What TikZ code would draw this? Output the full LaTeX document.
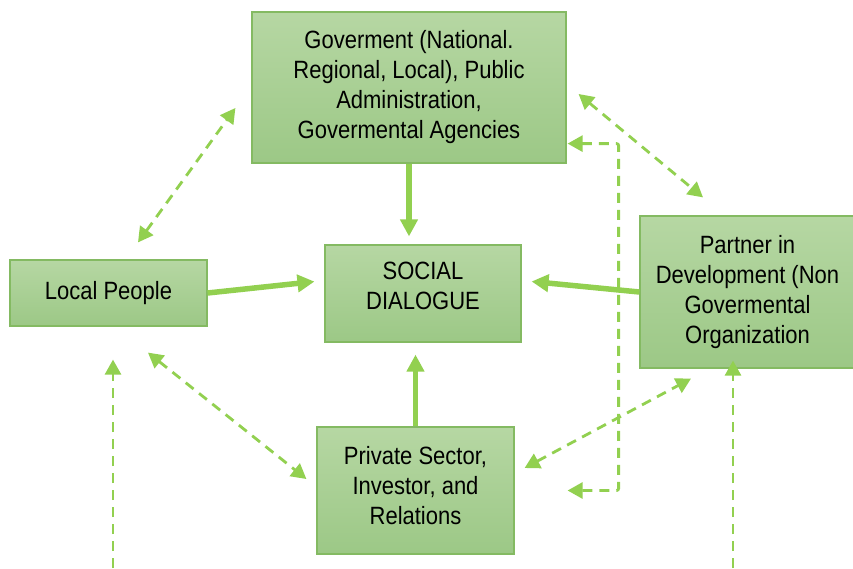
\documentclass[tikz,border=0pt]{standalone}
\usepackage{fontspec}
\usepackage{tikz}
\usetikzlibrary{arrows.meta,calc}
\newfontfamily\boxfont{Liberation Sans}[FakeStretch=0.88]
\definecolor{arrowgreen}{HTML}{92D050}
\definecolor{boxtop}{HTML}{B6D7A3}
\definecolor{boxbottom}{HTML}{9CC886}
\definecolor{boxline}{HTML}{84BA62}

\begin{document}
\begin{tikzpicture}[x=1pt,y=-1pt,
    greenbox/.style={draw=boxline,line width=1.2pt,top color=boxtop,bottom color=boxbottom,
      align=center,inner sep=0pt,font=\boxfont\fontsize{25}{30}\selectfont},
    mainarrow/.style={arrowgreen,line width=5.5pt,-{Triangle[length=17pt,width=17pt]}},
    link/.style={arrowgreen,line width=2.8pt,dash pattern=on 10pt off 7pt,
      {Triangle[length=15pt,width=16pt]}-{Triangle[length=15pt,width=16pt]}},
    uplink/.style={arrowgreen,line width=2.8pt,dash pattern=on 10pt off 7pt,
      -{Triangle[length=15pt,width=16pt]}}]
          \useasboundingbox (0,0) rectangle (853,568);
          %\draw[very thin,lightgray] (0,0) grid[step=50pt] (853,568);
          \node[greenbox,minimum width=314pt,minimum height=151pt] (gov) at (409,87.5)
          {Goverment (National.\\Regional, Local), Public\\Administration,\\Govermental Agencies};
          \node[greenbox,minimum width=196pt,minimum height=97pt] (soc) at (423,293.5)
          {SOCIAL\\DIALOGUE\\[-14pt]};
          \node[greenbox,minimum width=197pt,minimum height=66pt] (loc) at (108.5,293)
          {Local People};
          \node[greenbox,minimum width=215pt,minimum height=152pt] (par) at (747.5,292)
          {Partner in\\Development (Non\\Govermental\\Organization};
          \node[greenbox,minimum width=197pt,minimum height=127pt] (priv) at (415.5,490.5)
          {Private Sector,\\Investor, and\\Relations\\[-19pt]};
          \coordinate (lbot) at (113,568);
          \coordinate (pbot) at (733,568);
          % into the dialogue
          \draw[mainarrow,shorten >=8pt] (gov.south) -- (gov.south |- soc.north);
          \draw[mainarrow,shorten >=12pt] (priv.north) -- (priv.north |- soc.south);
          \draw[mainarrow,shorten >=10pt] (loc.east) -- ($(soc.west)+(0,-13)$);
          \draw[mainarrow,shorten >=10pt] (par.west) -- ($(soc.east)+(0,-13)$);
          % dashed links
          \draw[link] ([xshift=29.5pt,yshift=17pt]loc.north)
          -- ([xshift=-16pt,yshift=-20.5pt]gov.west);
          \draw[link] ([xshift=12pt,yshift=-6.5pt]gov.east)
          -- ([xshift=-44.5pt,yshift=18pt]par.north);
          \draw[link] ([xshift=39.5pt,yshift=-26pt]loc.south)
          -- ([xshift=-10pt,yshift=11.5pt]priv.west);
          \draw[link] ([xshift=10pt,yshift=22.5pt]priv.east)
          -- ([xshift=-56.5pt,yshift=-10pt]par.south);
          \draw[link,rounded corners=2pt] ([xshift=1pt,yshift=20pt]gov.south east)
          -- ++(51,0) |- ([xshift=53pt]priv.east);
          \draw[uplink,shorten >=33pt] (lbot) -- (lbot |- loc.south);
          \draw[uplink,shorten >=-8pt] (pbot) -- (pbot |- par.south);
        \end{tikzpicture}
\end{document}
